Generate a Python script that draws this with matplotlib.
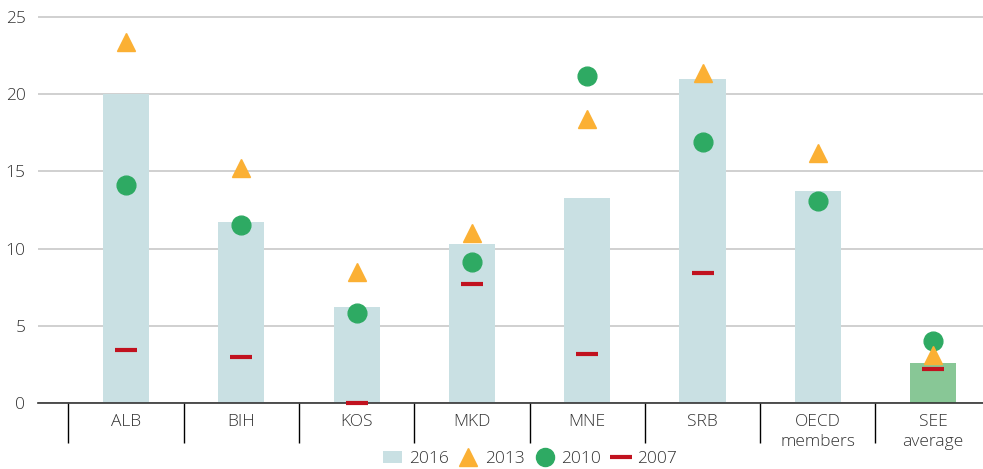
import matplotlib
matplotlib.use("Agg")
import matplotlib.pyplot as plt
from matplotlib.lines import Line2D
from matplotlib.patches import Patch
import numpy as np

plt.rcParams['font.family'] = ['Open Sans', 'DejaVu Sans']
plt.rcParams['font.weight'] = 'light'

# data
categories = ["ALB", "BIH", "KOS", "MKD", "MNE", "SRB", "OECD\nmembers", "SEE\naverage"]
val2016 = [20.0, 11.7, 6.2, 10.3, 13.3, 21.0, 13.7, 2.6]
val2013 = [23.4, 15.2, 8.5, 11.0, 18.4, 21.4, 16.2, 3.1]
val2010 = [14.1, 11.5, 5.8, 9.1, 21.2, 16.9, 13.1, 4.0]
val2007 = [3.4, 3.0, 0.0, 7.7, 3.2, 8.4, None, 2.2]

barColor = "#c9e0e3"
seeColor = "#88c796"
triColor = "#fbb034"
dotColor = "#2eaa63"
dashColor = "#c1121f"
textColor = "#333333"

x = np.arange(len(categories))

fig = plt.figure(figsize=(9.83, 4.69), dpi=100)
ax = fig.add_axes([38/983, 1-403/469, 1-38/983, (403-12)/469])

colors = [barColor]*(len(categories)-1) + [seeColor]
ax.bar(x, val2016, width=0.40, color=colors, zorder=2)

ax.plot(x, val2013, linestyle="none", marker="^", markersize=13.5, color=triColor, zorder=4)
ax.plot(x, val2010, linestyle="none", marker="o", markersize=13.5, color=dotColor, zorder=3)
x07 = [xi for xi, v in zip(x, val2007) if v is not None]
v07 = [v for v in val2007 if v is not None]
ax.plot(x07, v07, linestyle="none", marker="_", markersize=16.5, markeredgewidth=3,
        color=dashColor, zorder=5, clip_on=False)

ax.set_xlim((38-126)/115.3, (983-126)/115.3)
ax.set_ylim(0, 25.32)
ax.set_yticks([0, 5, 10, 15, 20, 25])
ax.yaxis.grid(True, color="#c8c8c8", linewidth=1.2, zorder=0)
ax.set_axisbelow(True)
for s in ["top", "right", "left"]:
    ax.spines[s].set_visible(False)
ax.spines["bottom"].set_color("#333333")
ax.spines["bottom"].set_linewidth(1.2)

ax.tick_params(axis="y", length=0, pad=9, labelsize=12.5, labelcolor=textColor)
ax.set_xticks(x)
ax.set_xticklabels(categories, fontsize=12.5, color=textColor, linespacing=1.3)
ax.tick_params(axis="x", which="major", length=0, pad=8)
ax.set_xticks(np.arange(-0.5, 7.0, 1.0), minor=True)
ax.tick_params(axis="x", which="minor", length=29, width=1, color="black", direction="out")

handles = [
    Patch(facecolor=barColor, edgecolor="none"),
    Line2D([], [], linestyle="none", marker="^", markersize=13, color=triColor),
    Line2D([], [], linestyle="none", marker="o", markersize=13, color=dotColor),
    Line2D([], [], linestyle="none", marker="_", markersize=16.5, markeredgewidth=3, color=dashColor),
]
labels = ["2016", "2013", "2010", "2007"]
fig.legend(handles, labels, loc="center", bbox_to_anchor=(530/983, 1-459/469), ncol=4,
           frameon=False, fontsize=12.5, handlelength=1.1, handletextpad=0.4,
           columnspacing=0.6, labelcolor=textColor)

plt.savefig("out.png", dpi=100)
print("Figure out.png created.")
